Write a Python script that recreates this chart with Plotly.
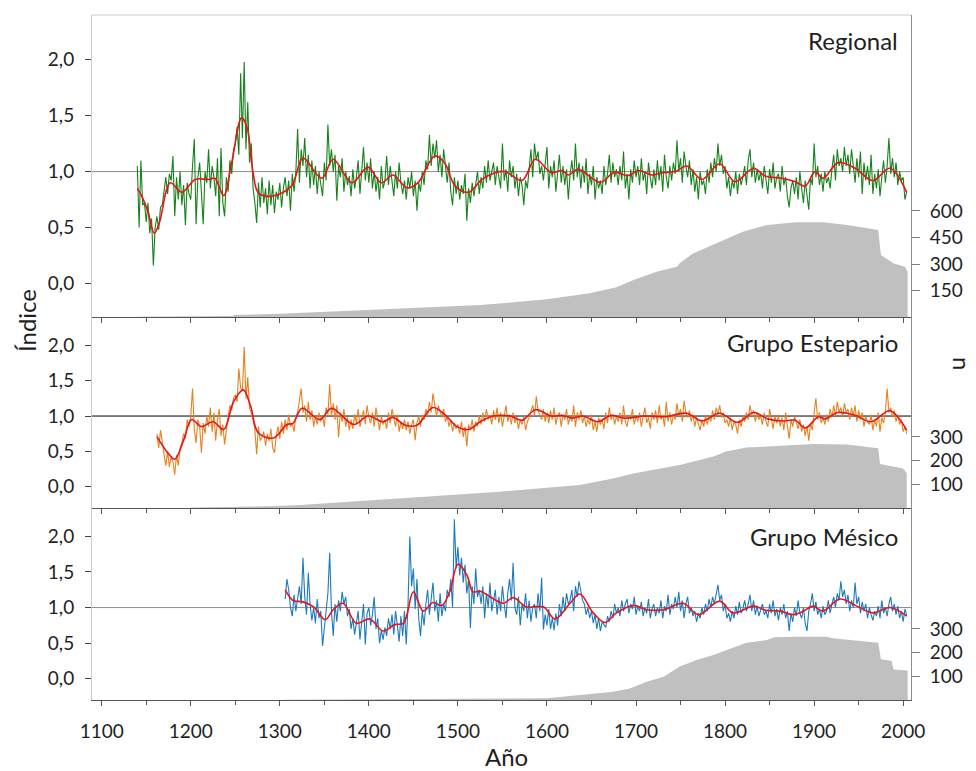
import plotly.graph_objects as go

# ---------------- Regional chronology ----------------
reg_start = 1140  # biennial values
reg_idx = [
    1.05, 0.50, 1.10, 0.70, 0.72, 0.55, 0.72, 0.45, 0.58, 0.16,
    0.50, 0.60, 0.48, 0.68, 0.70, 0.82, 0.95, 0.80, 0.98, 0.92,
    1.14, 0.60, 0.95, 0.75, 1.00, 0.70, 0.88, 0.52, 0.90, 0.80,
    0.75, 1.05, 1.29, 0.53, 0.95, 1.08, 0.82, 0.53, 1.00, 0.90,
    1.20, 0.85, 1.05, 0.95, 0.78, 1.12, 0.60, 1.21, 0.72, 0.60,
    0.95, 0.82, 1.10, 0.98, 1.20, 1.25, 1.40, 1.15, 1.88, 1.30,
    1.98, 1.20, 1.62, 1.08, 1.25, 0.85, 0.72, 0.54, 0.90, 0.68,
    0.95, 0.72, 0.85, 0.62, 0.92, 0.70, 0.88, 0.63, 0.82, 0.75,
    0.90, 0.68, 0.85, 0.95, 0.78, 0.92, 0.65, 0.98, 0.82, 1.00,
    1.38, 0.90, 1.20, 1.05, 1.30, 0.95, 1.15, 0.85, 1.10, 0.88,
    1.05, 0.80, 1.00, 0.90, 0.78, 1.08, 0.92, 1.42, 1.05, 1.20,
    1.00, 1.15, 0.74, 1.05, 0.95, 1.12, 0.82, 1.00, 0.88, 0.96,
    0.78, 1.02, 0.85, 0.95, 1.10, 0.80, 1.00, 1.22, 0.92, 1.08,
    0.90, 1.12, 0.85, 1.00, 0.82, 0.95, 0.75, 1.05, 0.85, 0.92,
    1.14, 0.88, 1.05, 0.92, 0.78, 1.00, 0.85, 1.08, 0.90, 0.80,
    0.92, 0.75, 0.95, 0.85, 1.00, 0.78, 0.92, 0.65, 0.90, 0.82,
    1.00, 0.88, 1.10, 1.02, 1.33, 1.05, 1.25, 1.12, 1.28, 1.00,
    1.15, 0.95, 1.20, 1.05, 0.90, 1.08, 0.82, 0.70, 0.95, 0.80,
    0.92, 0.75, 0.88, 0.80, 0.98, 0.56, 0.85, 0.72, 0.90, 0.78,
    0.88, 1.00, 0.80, 0.95, 0.85, 1.05, 0.90, 1.10, 0.92, 1.00,
    1.08, 0.88, 1.05, 0.95, 0.85, 1.25, 0.92, 1.02, 0.82, 1.10,
    0.95, 1.05, 0.85, 0.98, 0.78, 0.95, 0.88, 0.70, 0.92, 0.85,
    1.05, 1.20, 0.95, 1.25, 1.10, 1.18, 0.98, 1.05, 0.92, 1.10,
    1.22, 0.85, 1.05, 0.95, 1.10, 0.82, 1.00, 1.15, 0.90, 1.05,
    0.88, 1.02, 0.75, 0.98, 1.10, 0.92, 1.25, 0.95, 1.08, 0.85,
    1.05, 0.90, 1.12, 0.80, 0.98, 0.88, 1.05, 0.75, 0.95, 0.85,
    0.92, 0.80, 1.05, 0.88, 0.98, 1.15, 0.90, 1.08, 0.95, 1.02,
    0.88, 1.05, 0.92, 1.18, 0.85, 0.98, 0.75, 1.02, 0.90, 1.10,
    0.95, 1.05, 0.88, 1.12, 0.92, 1.00, 0.80, 1.08, 0.95, 0.85,
    1.02, 0.88, 1.10, 0.92, 1.05, 0.82, 1.15, 0.95, 0.85, 1.05,
    0.92, 1.08, 0.98, 1.28, 1.00, 1.12, 0.90, 1.18, 1.05, 0.95,
    1.10, 0.88, 1.02, 0.82, 0.95, 0.75, 1.00, 0.88, 0.92, 0.80,
    1.02, 0.90, 1.08, 0.95, 1.12, 1.00, 1.25, 1.05, 1.15, 0.98,
    1.05, 0.85, 0.95, 0.78, 0.92, 0.85, 1.00, 0.80, 0.98, 0.88,
    0.95, 1.05, 0.88, 1.10, 1.20, 0.95, 1.08, 0.90, 1.02, 0.92,
    1.00, 0.85, 1.05, 0.92, 0.80, 1.02, 0.90, 1.08, 0.85, 0.95,
    0.98, 0.82, 1.05, 0.88, 0.95, 0.78, 0.68, 0.85, 0.92, 0.80,
    0.95, 0.75, 1.00, 0.85, 0.72, 0.92, 0.78, 0.66, 0.95, 0.88,
    1.25, 0.95, 1.05, 0.88, 0.98, 0.82, 1.00, 0.90, 0.95, 0.85,
    1.02, 1.15, 0.92, 1.20, 1.05, 1.12, 1.00, 1.22, 1.05, 1.15,
    0.98, 1.20, 1.05, 0.90, 1.12, 0.95, 1.18, 0.80, 1.08, 0.92,
    1.05, 0.88, 1.15, 0.80, 0.98, 0.85, 1.02, 0.78, 0.95, 1.10,
    0.90, 1.05, 1.30, 0.98, 1.12, 0.95, 1.08, 0.88, 1.00, 0.92,
    0.95, 0.75, 0.82,
]
reg_smooth_years = [1140, 1145, 1152, 1159, 1165, 1177, 1190, 1205, 1220, 1227, 1237,
                    1246, 1257, 1263, 1270, 1276, 1291, 1313, 1326, 1347, 1360, 1381,
                    1399, 1414, 1427, 1443, 1455, 1474, 1485, 1497, 1512, 1527, 1542,
                    1553, 1572, 1587, 1605, 1617, 1624, 1635, 1660, 1676, 1691, 1703,
                    1718, 1729, 1744, 1757, 1774, 1794, 1811, 1832, 1845, 1864, 1879,
                    1890, 1901, 1910, 1927, 1946, 1966, 1985, 2004]
reg_smooth = [0.85, 0.78, 0.64, 0.45, 0.55, 0.90, 0.815, 0.93, 0.93, 0.94, 0.785,
              1.08, 1.48, 1.40, 0.99, 0.81, 0.78, 0.87, 1.12, 0.94, 1.11, 0.90,
              1.04, 0.90, 0.97, 0.855, 0.90, 1.14, 1.08, 0.87, 0.815, 0.93, 0.99,
              1.00, 0.92, 1.11, 0.99, 1.01, 0.97, 1.02, 0.905, 0.995, 0.964, 1.01,
              0.97, 0.99, 1.00, 1.05, 0.93, 1.07, 0.91, 1.03, 0.96, 0.94, 0.91,
              0.87, 1.00, 0.94, 1.08, 1.03, 0.92, 1.03, 0.815]
reg_n_years = [1140, 1200, 1247, 1249, 1300, 1398, 1450, 1525, 1547, 1600, 1648, 1678,
               1697, 1723, 1746, 1749, 1764, 1798, 1820, 1847, 1880, 1910, 1937, 1972,
               1975, 1989, 2002, 2005]
reg_n = [2, 5, 6, 11, 18, 40, 50, 68, 77, 100, 134, 168,
         209, 256, 285, 304, 360, 436, 483, 521, 536, 536, 521, 492,
         351, 304, 285, 256]

# ---------------- Grupo Estepario ----------------
est_start = 1162
est_idx = [
    0.75, 0.55, 0.80, 0.62, 0.45, 0.30, 0.50, 0.28, 0.42, 0.35,
    0.17, 0.45, 0.30, 0.55, 0.62, 0.75, 0.68, 0.95, 0.85, 1.00,
    1.39, 0.80, 0.62, 0.95, 0.85, 0.48, 0.90, 0.75, 1.00, 0.85,
    1.12, 0.78, 1.05, 0.65, 0.95, 1.10, 0.72, 0.88, 0.60, 0.82,
    1.00, 1.15, 1.08, 1.25, 1.30, 1.20, 1.67, 1.40, 1.35, 1.98,
    1.25, 1.55, 1.10, 1.05, 0.95, 0.80, 0.46, 0.85, 0.65, 0.70,
    0.78, 0.58, 0.75, 0.65, 0.82, 0.55, 0.48, 0.72, 0.85, 0.68,
    0.92, 0.75, 0.95, 0.80, 1.02, 0.85, 0.90, 0.78, 1.00, 1.05,
    1.25, 1.39, 1.05, 1.15, 0.92, 1.20, 0.95, 1.08, 0.85, 1.00,
    0.88, 1.05, 0.92, 1.00, 0.85, 1.12, 1.02, 1.45, 1.00, 1.18,
    0.95, 1.15, 0.70, 1.05, 0.92, 1.10, 0.85, 0.98, 0.80, 0.95,
    0.82, 1.02, 0.90, 1.10, 0.85, 0.95, 1.08, 0.88, 1.15, 0.98,
    0.90, 1.05, 0.85, 1.12, 0.95, 0.80, 1.00, 0.88, 0.95, 0.82,
    1.05, 0.90, 1.10, 0.95, 0.85, 1.02, 0.78, 0.92, 0.82, 0.95,
    0.80, 0.92, 0.75, 0.88, 0.95, 0.66, 0.90, 1.00, 0.85, 1.02,
    0.95, 1.10, 1.02, 1.20, 1.05, 1.32, 1.12, 1.00, 1.15, 1.05,
    0.98, 1.10, 0.92, 1.00, 0.85, 0.95, 0.78, 0.90, 0.82, 0.88,
    0.75, 0.92, 0.70, 0.85, 0.57, 0.88, 0.80, 0.95, 0.78, 0.92,
    0.85, 1.00, 0.88, 1.05, 0.92, 1.10, 0.95, 1.02, 0.88, 1.08,
    0.95, 1.12, 0.90, 1.05, 0.85, 1.00, 1.15, 0.92, 1.02, 0.88,
    1.05, 0.90, 0.98, 0.82, 0.95, 0.88, 1.00, 0.80, 0.92, 0.98,
    1.05, 1.15, 1.00, 1.28, 1.08, 1.02, 0.95, 1.10, 0.92, 1.05,
    0.90, 1.08, 0.95, 1.12, 0.88, 1.00, 1.05, 0.85, 1.02, 0.95,
    1.10, 0.88, 1.00, 0.92, 1.15, 0.85, 1.05, 0.95, 1.08, 0.90,
    1.00, 0.85, 0.95, 0.88, 1.02, 0.80, 0.92, 0.78, 0.98, 0.88,
    0.95, 0.82, 1.05, 0.90, 1.12, 0.95, 1.02, 0.88, 1.00, 0.92,
    1.05, 0.88, 1.15, 0.92, 0.85, 1.02, 0.95, 1.10, 0.88, 1.00,
    0.92, 1.05, 0.85, 1.00, 1.12, 0.90, 0.98, 0.82, 1.05, 0.95,
    1.08, 0.90, 1.15, 0.95, 1.02, 0.85, 1.20, 0.92, 1.05, 0.88,
    1.02, 0.95, 1.18, 1.00, 1.10, 0.92, 1.22, 1.05, 0.98, 1.08,
    0.92, 1.02, 0.85, 0.98, 0.88, 0.80, 0.95, 0.85, 1.00, 0.88,
    1.00, 0.92, 1.08, 0.95, 1.12, 1.02, 1.15, 0.98, 1.05, 0.90,
    0.95, 0.85, 0.98, 0.80, 0.92, 0.88, 0.75, 0.95, 0.85, 1.00,
    0.92, 1.05, 0.95, 1.15, 1.02, 1.08, 0.92, 1.05, 0.95, 1.00,
    0.88, 1.05, 0.92, 0.85, 1.10, 0.95, 0.82, 1.00, 0.90, 1.02,
    0.85, 0.98, 0.80, 1.05, 0.88, 0.68, 0.95, 0.85, 1.00, 0.90,
    0.82, 0.95, 0.78, 0.88, 0.72, 0.85, 0.65, 0.90, 0.80, 1.05,
    1.25, 0.95, 1.05, 0.90, 0.98, 0.88, 1.02, 0.92, 1.10, 0.98,
    1.15, 1.00, 1.20, 1.05, 1.12, 0.98, 1.18, 1.05, 1.10, 0.95,
    1.12, 1.00, 1.15, 0.92, 1.08, 0.95, 1.05, 0.85, 1.00, 0.92,
    0.88, 1.02, 0.80, 0.95, 0.85, 1.05, 0.78, 0.98, 0.90, 1.05,
    1.39, 1.05, 1.12, 0.98, 1.08, 0.92, 1.02, 0.88, 0.95, 0.78,
    0.85, 0.75,
]
est_smooth_years = [1162, 1173, 1182, 1192, 1201, 1212, 1225, 1237, 1248, 1259, 1267,
                    1276, 1293, 1308, 1315, 1325, 1345, 1358, 1383, 1399, 1416, 1427,
                    1441, 1454, 1472, 1487, 1499, 1512, 1525, 1540, 1559, 1572, 1587,
                    1605, 1617, 1629, 1640, 1657, 1672, 1687, 1710, 1732, 1757, 1774,
                    1794, 1814, 1832, 1848, 1864, 1879, 1890, 1905, 1912, 1927, 1946,
                    1964, 1985, 2004]
est_smooth = [0.71, 0.50, 0.39, 0.66, 0.95, 0.85, 0.92, 0.81, 1.20, 1.37, 1.15,
              0.76, 0.69, 0.88, 0.90, 1.11, 0.95, 1.11, 0.88, 1.00, 0.92, 0.98,
              0.87, 0.87, 1.12, 1.00, 0.85, 0.81, 0.92, 1.00, 1.00, 0.94, 1.09,
              1.00, 1.01, 0.97, 1.00, 0.92, 1.01, 0.97, 1.00, 0.99, 1.04, 0.93,
              1.04, 0.91, 1.05, 0.96, 0.93, 0.94, 0.83, 0.99, 0.96, 1.05, 1.01,
              0.92, 1.075, 0.80]
est_n_years = [1200, 1296, 1323, 1435, 1525, 1547, 1637, 1674, 1697, 1749, 1787, 1801,
               1824, 1862, 1899, 1937, 1972, 1974, 2000, 2004]
est_n = [2, 8, 13, 41, 65, 69, 97, 125, 146, 181, 217, 238,
         255, 262, 270, 268, 252, 186, 167, 147]

# ---------------- Grupo Mésico ----------------
mes_start = 1306
mes_idx = [
    1.12, 1.40, 1.25, 1.00, 0.88, 1.18, 0.95, 1.10, 1.30, 1.05,
    1.70, 1.15, 0.90, 1.49, 1.05, 0.82, 1.00, 0.78, 1.12, 0.85,
    0.95, 0.46, 0.72, 0.88, 1.20, 1.77, 0.95, 0.60, 1.05, 0.80,
    1.10, 0.95, 1.22, 1.05, 1.15, 0.88, 0.98, 0.70, 0.85, 0.62,
    0.80, 0.95, 0.55, 0.78, 1.05, 0.48, 0.92, 1.00, 0.75, 0.90,
    1.15, 0.70, 0.85, 0.50, 0.68, 0.55, 0.72, 0.60, 0.85, 0.70,
    0.90, 0.62, 0.95, 0.75, 0.52, 0.88, 0.60, 0.95, 0.48, 1.05,
    2.00, 1.30, 1.55, 0.98, 1.40, 0.85, 0.60, 0.95, 0.75, 1.05,
    1.25, 0.90, 1.15, 1.35, 0.95, 1.10, 0.80, 1.20, 0.88, 1.05,
    0.95, 1.25, 1.15, 1.40, 1.00, 2.24, 1.55, 1.85, 1.45, 1.70,
    1.35, 1.60, 1.20, 1.40, 0.71, 1.30, 1.05, 1.55, 1.15, 1.25,
    1.05, 1.30, 0.85, 1.20, 1.00, 1.35, 0.95, 1.10, 1.25, 0.90,
    1.15, 0.95, 1.30, 1.05, 0.85, 1.20, 1.40, 1.10, 1.63, 1.00,
    0.90, 1.15, 0.75, 1.05, 0.95, 1.20, 0.85, 1.10, 0.80, 1.00,
    1.05, 0.85, 1.20, 0.95, 1.42, 0.69, 0.90, 0.75, 0.98, 0.70,
    0.85, 0.68, 0.92, 0.75, 1.05, 0.88, 1.15, 0.95, 1.20, 1.05,
    1.10, 1.25, 0.95, 1.30, 1.15, 1.37, 1.25, 1.10, 1.05, 0.90,
    1.00, 0.85, 0.95, 0.78, 0.90, 0.70, 0.85, 0.67, 0.80, 0.75,
    0.72, 0.88, 0.80, 0.95, 0.85, 1.05, 0.92, 1.00, 0.88, 1.10,
    0.95, 1.05, 1.12, 0.92, 1.05, 0.98, 1.15, 0.90, 1.02, 0.95,
    1.08, 0.88, 1.00, 0.92, 1.12, 0.85, 0.98, 1.05, 0.88, 1.00,
    0.92, 1.10, 0.85, 1.02, 0.95, 1.18, 0.90, 1.05, 0.98, 1.15,
    1.00, 1.22, 0.95, 1.10, 0.85, 1.05, 1.15, 0.92, 1.00, 0.88,
    0.95, 0.80, 0.92, 0.85, 1.00, 0.90, 1.05, 0.95, 1.12, 1.00,
    1.15, 1.05, 1.20, 1.32, 1.10, 1.18, 0.95, 1.05, 0.85, 0.92,
    0.80, 0.95, 0.85, 1.02, 0.90, 1.08, 0.92, 0.98, 1.10, 0.95,
    1.05, 1.18, 0.95, 1.10, 0.90, 1.02, 0.88, 0.98, 1.05, 0.90,
    0.95, 0.85, 1.05, 0.92, 1.10, 0.88, 0.98, 0.82, 1.00, 0.90,
    1.05, 0.85, 0.95, 0.67, 0.92, 0.80, 1.00, 0.88, 1.10, 0.92,
    0.85, 1.00, 0.78, 0.67, 0.95, 1.05, 1.20, 0.95, 1.08, 0.90,
    0.98, 0.85, 1.02, 0.90, 0.95, 1.10, 0.92, 1.05, 1.15, 1.00,
    1.20, 1.10, 1.37, 1.15, 1.25, 1.05, 1.18, 0.95, 1.10, 1.00,
    1.35, 1.05, 1.15, 0.92, 1.08, 0.95, 1.05, 0.85, 1.00, 0.90,
    0.82, 0.95, 0.88, 1.02, 0.85, 1.10, 0.92, 1.00, 0.88, 1.05,
    1.15, 0.95, 1.05, 0.90, 1.02, 0.85, 0.95, 0.80, 0.98, 0.88,
]
mes_smooth_years = [1306, 1315, 1326, 1338, 1351, 1360, 1371, 1386, 1401, 1416, 1429,
                    1439, 1450, 1461, 1472, 1482, 1491, 1500, 1510, 1517, 1525, 1551,
                    1562, 1577, 1596, 1609, 1626, 1637, 1652, 1665, 1678, 1697, 1712,
                    1731, 1753, 1770, 1794, 1809, 1832, 1846, 1862, 1877, 1888, 1899,
                    1910, 1929, 1948, 1966, 1985, 2004]
mes_smooth = [1.25, 1.10, 1.08, 1.01, 0.83, 0.97, 1.06, 0.78, 0.84, 0.67, 0.76,
              0.78, 1.22, 0.95, 1.07, 1.03, 1.23, 1.61, 1.46, 1.22, 1.23, 1.06,
              1.14, 1.01, 1.01, 0.84, 1.06, 1.19, 0.925, 0.79, 0.925, 1.03, 0.97,
              0.97, 1.06, 0.90, 1.09, 0.925, 1.02, 0.96, 0.95, 0.90, 0.95, 1.02,
              0.95, 1.12, 1.02, 0.925, 1.00, 0.88]
mes_n_years = [1305, 1400, 1500, 1600, 1637, 1674, 1693, 1712, 1731, 1749, 1768, 1787,
               1805, 1824, 1847, 1855, 1880, 1914, 1921, 1972, 1975, 1987, 1989, 2005]
mes_n = [1, 2, 4, 7, 21, 35, 49, 77, 98, 141, 169, 190,
         215, 242, 253, 265, 267, 267, 260, 242, 172, 166, 129, 124]

# ---------------- Styling ----------------
FONT = "Lato, 'Open Sans', sans-serif"
TXT = "#1f1f1f"
GRAY_AREA = "#c0c0c0"
RED = "#e8141c"
X_RANGE = [1089.1, 2008.8]
IDX_RANGE = [-0.3, 2.4]
TICK_SIZE = 19

panels = [
    dict(label="Regional", start=reg_start, idx=reg_idx, color="#16821a",
         sy=reg_smooth_years, sv=reg_smooth, ny=reg_n_years, nv=reg_n,
         nrange=[0, 1709], nticks=[150, 300, 450, 600], ref="#8c8c8c",
         dom=[0.5591, 1.0], label_y=0.917),
    dict(label="Grupo Estepario", start=est_start, idx=est_idx, color="#e6821e",
         sy=est_smooth_years, sv=est_smooth, ny=est_n_years, nv=est_n,
         nrange=[0, 806], nticks=[100, 200, 300], ref="#000000",
         dom=[0.2803, 0.5591], label_y=0.869),
    dict(label="Grupo Mésico", start=mes_start, idx=mes_idx, color="#1c7abf",
         sy=mes_smooth_years, sv=mes_smooth, ny=mes_n_years, nv=mes_n,
         nrange=[0, 810], nticks=[100, 200, 300], ref="#8c8c8c",
         dom=[0.0, 0.2803], label_y=0.849),
]

fig = go.Figure()
layout = {}
shapes = []
annotations = []

for k, p in enumerate(panels, start=1):
    xa = "x" if k == 1 else f"x{k}"
    yn = "y" if k == 1 else f"y{k}"
    yi = f"y{k + 3}"
    years = list(range(p["start"], p["start"] + 2 * len(p["idx"]), 2))

    # sample depth (n) as a grey filled area on the right-hand axis
    fig.add_trace(go.Scatter(x=p["ny"], y=p["nv"], xaxis=xa, yaxis=yn,
                             mode="lines", fill="tozeroy", fillcolor=GRAY_AREA,
                             line=dict(width=0, color=GRAY_AREA), hoverinfo="skip",
                             showlegend=False))
    # ring-width index
    fig.add_trace(go.Scatter(x=years, y=p["idx"], xaxis=xa, yaxis=yi, mode="lines",
                             line=dict(color=p["color"], width=1.1), showlegend=False))
    # smoothed index
    fig.add_trace(go.Scatter(x=p["sy"], y=p["sv"], xaxis=xa, yaxis=yi, mode="lines",
                             line=dict(color=RED, width=1.6, shape="spline", smoothing=1.0),
                             showlegend=False))

    xkey = "xaxis" if k == 1 else f"xaxis{k}"
    ynkey = "yaxis" if k == 1 else f"yaxis{k}"
    yikey = f"yaxis{k + 3}"

    layout[xkey] = dict(
        domain=[0, 1], range=X_RANGE, anchor=yn, tick0=1100, dtick=100,
        ticks="outside", ticklen=5, tickcolor="#555555", tickwidth=1,
        minor=dict(dtick=50, ticks="outside", ticklen=4, tickcolor="#555555"),
        showline=True, linecolor="#555555", linewidth=1.3,
        showgrid=False, zeroline=False, showticklabels=(k == 3),
        ticklabelstandoff=9, automargin=False,
        tickfont=dict(family=FONT, size=TICK_SIZE, color=TXT),
    )
    if k > 1:
        layout[xkey]["matches"] = "x"
    layout[ynkey] = dict(
        domain=p["dom"], range=p["nrange"], side="right", anchor=xa,
        tickvals=p["nticks"], ticks="outside", ticklen=8, tickcolor="#7f7f7f",
        showline=True, linecolor="#8c8c8c", linewidth=1,
        showgrid=False, zeroline=False, ticklabelstandoff=6, automargin=False,
        tickfont=dict(family=FONT, size=TICK_SIZE, color=TXT),
    )
    layout[yikey] = dict(
        overlaying=yn, side="left", anchor=xa, range=IDX_RANGE,
        tickvals=[0, 0.5, 1.0, 1.5, 2.0], tickformat=".1f",
        ticks="outside", ticklen=6, tickcolor="#404040",
        showline=True, linecolor="#cccccc", linewidth=1,
        showgrid=False, zeroline=False, ticklabelstandoff=7, automargin=False,
        tickfont=dict(family=FONT, size=TICK_SIZE, color=TXT),
    )

    # reference line at index = 1
    shapes.append(dict(type="line", xref=f"{xa} domain", x0=0, x1=1,
                       yref=yi, y0=1, y1=1, layer="below",
                       line=dict(color=p["ref"], width=1)))
    # panel title
    annotations.append(dict(text=p["label"], xref=f"{xa} domain", yref=f"{yn} domain",
                            x=0.987, y=p["label_y"], xanchor="right", yanchor="middle",
                            showarrow=False, font=dict(family=FONT, size=24, color=TXT)))

# frame line along the top of the first panel
shapes.append(dict(type="line", xref="paper", yref="paper", x0=0, x1=1, y0=1, y1=1,
                   line=dict(color="#cccccc", width=1)))

annotations += [
    dict(text="Índice", xref="paper", yref="paper", x=-0.0806, y=0.5547,
         textangle=-90, showarrow=False, xanchor="center", yanchor="middle",
         font=dict(family=FONT, size=24, color=TXT)),
    dict(text="n", xref="paper", yref="paper", x=1.0623, y=0.492,
         textangle=90, showarrow=False, xanchor="center", yanchor="middle",
         font=dict(family=FONT, size=24, color=TXT)),
    dict(text="Año", xref="paper", yref="paper", x=0.5055, y=-0.082,
         showarrow=False, xanchor="center", yanchor="middle",
         font=dict(family=FONT, size=24, color=TXT)),
]

fig.update_layout(
    width=976, height=771,
    margin=dict(l=92, r=65, t=15, b=71, autoexpand=False),
    paper_bgcolor="white", plot_bgcolor="white",
    separators=",.",
    showlegend=False,
    shapes=shapes, annotations=annotations,
    font=dict(family=FONT, color=TXT),
    **layout,
)

fig.write_html("out.html")
